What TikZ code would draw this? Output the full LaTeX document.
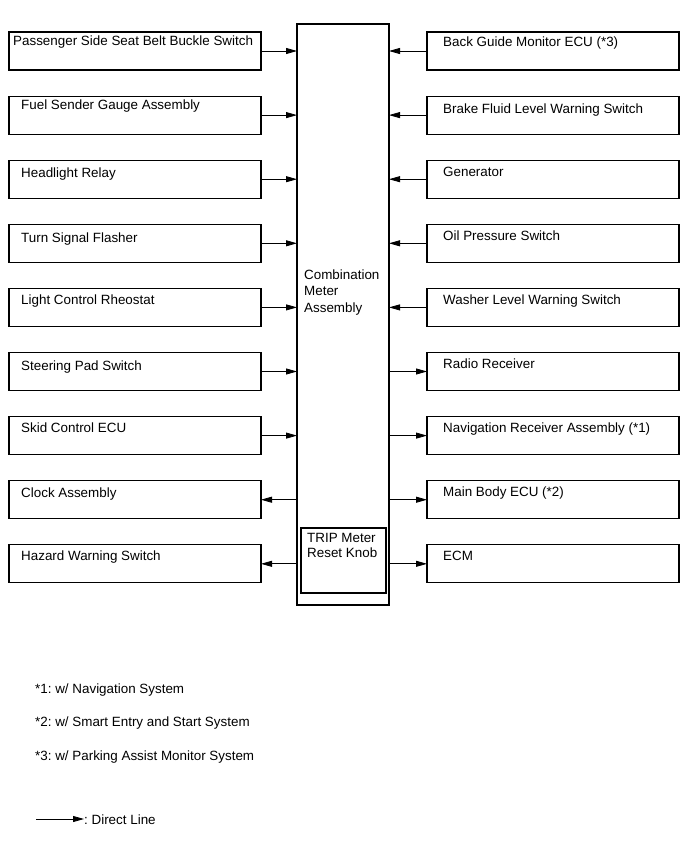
\documentclass[tikz,border=0pt]{standalone}
\usepackage{fontspec}
\setmainfont{Liberation Sans}
\usetikzlibrary{arrows.meta}
\frenchspacing
\tikzset{
  unit/.style={draw, line width=1.1pt, minimum width=252pt, minimum height=38pt,
    anchor=north west, inner sep=0pt, outer sep=0pt},
  txt/.style={anchor=base west, inner sep=0pt, font=\fontsize{13.4}{16.7}\selectfont},
  sig/.style={line width=0.8pt, -{Triangle[length=11pt,width=6pt]}},
}

\begin{document}
\begin{tikzpicture}[x=1pt, y=-1pt]
\useasboundingbox (0,0) rectangle (691,854);

% Combination meter in the middle
\node[draw, line width=1.1pt, minimum width=92pt, minimum height=581pt, anchor=north west, inner sep=0pt, outer sep=0pt] (meter) at (297,24) {};
\node[txt, align=left] (meter-txt) at (304,312.4) {Combination\\Meter\\Assembly};
\node[draw, line width=1.1pt, minimum width=85pt, minimum height=65pt, anchor=north west, inner sep=0pt, outer sep=0pt] (trip) at (301,528) {};
\node[txt, align=left, font=\fontsize{13.4}{14.5}\selectfont] (trip-txt) at (307,557) {TRIP Meter\\Reset Knob};

% Left column
\node[unit] (psgr) at (9,32) {};
\node[txt] (psgr-txt) at (13,45) {Passenger Side Seat Belt Buckle Switch};
\node[unit] (fuel) at (9,96.1) {};
\node[txt] (fuel-txt) at (21,109) {Fuel Sender Gauge Assembly};
\node[unit] (head) at (9,160.2) {};
\node[txt] (head-txt) at (21,177.5) {Headlight Relay};
\node[unit] (turn) at (9,224.3) {};
\node[txt] (turn-txt) at (21,242) {Turn Signal Flasher};
\node[unit] (rheo) at (9,288.4) {};
\node[txt] (rheo-txt) at (21,304) {Light Control Rheostat};
\node[unit] (steer) at (9,352.5) {};
\node[txt] (steer-txt) at (21,370) {Steering Pad Switch};
\node[unit] (skid) at (9,416.6) {};
\node[txt] (skid-txt) at (21,432) {Skid Control ECU};
\node[unit] (clock) at (9,480.7) {};
\node[txt] (clock-txt) at (21,497.5) {Clock Assembly};
\node[unit] (hazard) at (9,544.8) {};
\node[txt] (hazard-txt) at (21,560.5) {Hazard Warning Switch};

% Right column
\node[unit] (bgm) at (427,32) {};
\node[txt] (bgm-txt) at (443,46) {Back Guide Monitor ECU (*3)};
\node[unit] (brake) at (427,96.1) {};
\node[txt] (brake-txt) at (443,113) {Brake Fluid Level Warning Switch};
\node[unit] (gen) at (427,160.2) {};
\node[txt] (gen-txt) at (443,176) {Generator};
\node[unit] (oil) at (427,224.3) {};
\node[txt] (oil-txt) at (443,240) {Oil Pressure Switch};
\node[unit] (washer) at (427,288.4) {};
\node[txt] (washer-txt) at (443,304) {Washer Level Warning Switch};
\node[unit] (radio) at (427,352.5) {};
\node[txt] (radio-txt) at (443,368) {Radio Receiver};
\node[unit] (navi) at (427,416.6) {};
\node[txt] (navi-txt) at (443,432) {Navigation Receiver Assembly (*1)};
\node[unit] (body) at (427,480.7) {};
\node[txt] (body-txt) at (443,496) {Main Body ECU (*2)};
\node[unit] (ecm) at (427,544.8) {};
\node[txt] (ecm-txt) at (443,560) {ECM};

% Signals into the meter
\draw[sig] (psgr.east) -- (psgr.east -| meter.west);
\draw[sig] (fuel.east) -- (fuel.east -| meter.west);
\draw[sig] (head.east) -- (head.east -| meter.west);
\draw[sig] (turn.east) -- (turn.east -| meter.west);
\draw[sig] (rheo.east) -- (rheo.east -| meter.west);
\draw[sig] (steer.east) -- (steer.east -| meter.west);
\draw[sig] (skid.east) -- (skid.east -| meter.west);
\draw[sig] (bgm.west) -- (bgm.west -| meter.east);
\draw[sig] (brake.west) -- (brake.west -| meter.east);
\draw[sig] (gen.west) -- (gen.west -| meter.east);
\draw[sig] (oil.west) -- (oil.west -| meter.east);
\draw[sig] (washer.west) -- (washer.west -| meter.east);

% Signals out of the meter
\draw[sig] (clock.east -| meter.west) -- (clock.east);
\draw[sig] (hazard.east -| meter.west) -- (hazard.east);
\draw[sig] (radio.west -| meter.east) -- (radio.west);
\draw[sig] (navi.west -| meter.east) -- (navi.west);
\draw[sig] (body.west -| meter.east) -- (body.west);
\draw[sig] (ecm.west -| meter.east) -- (ecm.west);

% Notes
\node[txt] (note1) at (35,693) {*1: w/ Navigation System};
\node[txt] (note2) at (35,726) {*2: w/ Smart Entry and Start System};
\node[txt] (note3) at (35,760) {*3: w/ Parking Assist Monitor System};

% Key
\coordinate (key-start) at (36,819);
\node[txt] (key) at (84,824) {: Direct Line};
\draw[sig] (key-start) -- (key-start -| key.west);
\end{tikzpicture}
\end{document}
